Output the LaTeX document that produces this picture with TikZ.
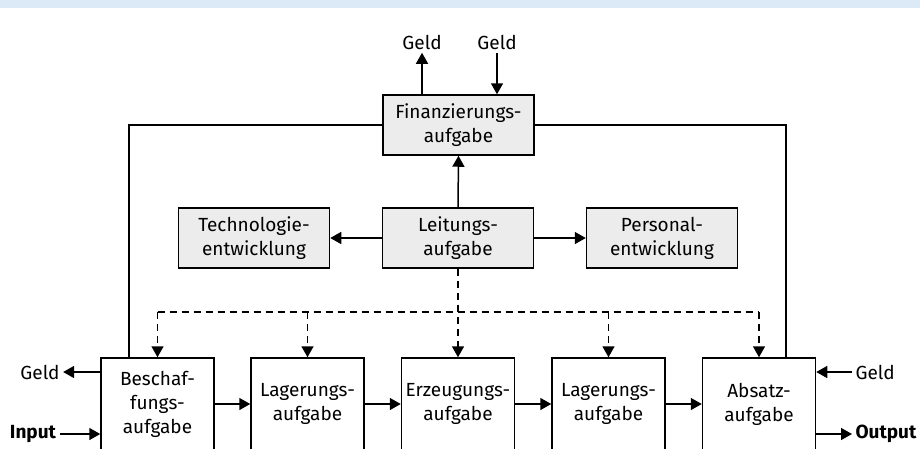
\documentclass[tikz,border=0pt]{standalone}
\usepackage{fontspec}
\setmainfont{Fira Sans}
\usetikzlibrary{arrows.meta}
\definecolor{band}{RGB}{220,234,247}
\definecolor{boxgray}{RGB}{236,236,236}
\begin{document}
\begin{tikzpicture}[x=1pt,y=-1pt,
  font=\fontsize{19}{24}\selectfont,
  gbox/.style={draw, fill=boxgray, minimum width=151pt, minimum height=60pt, align=center, inner sep=0pt, line width=1.5pt},
  wbox/.style={draw, fill=white, minimum width=113pt, minimum height=92pt, align=center, inner sep=0pt, line width=1.5pt},
  conn/.style={line width=1.5pt, -{Triangle[length=11pt,width=12pt]}},
  plain/.style={line width=1.5pt},
  dashline/.style={line width=1.5pt, dash pattern=on 7pt off 5pt},
  dconn/.style={conn, dash pattern=on 7pt off 5pt},
  boldlabel/.style={font=\fontsize{19}{24}\selectfont\bfseries}
]
\useasboundingbox (0,0) rectangle (920,448);
\clip (0,0) rectangle (920,448);
\fill[band] (0,0) rectangle (920,8);

\node[gbox] (fin) at (458.5,125) {Finanzierungs-\\aufgabe};
\node[gbox] (lei) at (458,238) {Leitungs-\\aufgabe};
\node[gbox] (tech) at (254,238) {Technologie-\\entwicklung};
\node[gbox] (pers) at (662,238) {Personal-\\entwicklung};

\node[wbox] (b1) at (157.5,404) {Beschaf-\\fungs-\\aufgabe};
\node[wbox] (b2) at (307.5,404) {Lagerungs-\\aufgabe};
\node[wbox] (b3) at (458,404) {Erzeugungs-\\aufgabe};
\node[wbox] (b4) at (608.5,404) {Lagerungs-\\aufgabe};
\node[wbox] (b5) at (759,404) {Absatz-\\aufgabe};

% loop
\coordinate (lt) at (129,125);
\coordinate (rt) at (786,125);
\draw[plain] (lt |- b1.north) |- (fin.west);
\draw[plain] (fin.east) -| (rt |- b5.north);

% Leitung arrows
\draw[conn] (lei.north) -- (fin.south);
\draw[conn] (lei.west) -- (tech.east);
\draw[conn] (lei.east) -- (pers.west);

% dashed distribution
\coordinate (dy) at (0,312);
\draw[dashline] (lei.south) -- (lei.south |- dy);
\draw[dashline] (b1.north |- dy) -- (b5.north |- dy);
\foreach \b in {b1,b2,b4,b5} \draw[dconn] (\b.north |- dy) -- (\b.north);
\draw[dconn] (lei.south) -- (b3.north);

% chain
\draw[conn] (b1.east) -- (b2.west);
\draw[conn] (b2.east) -- (b3.west);
\draw[conn] (b3.east) -- (b4.west);
\draw[conn] (b4.east) -- (b5.west);

% Geld top
\node (gt1) at (422,42) {Geld};
\node (gt2) at (497,42) {Geld};
\draw[conn] (fin.north -| gt1) -- (gt1.south);
\draw[conn] (gt2.south) -- (fin.north -| gt2);

% left side
\node (gl) at (40,372) {Geld};
\draw[conn] (b1.west |- gl) -- (gl.east);
\node[boldlabel] (in) at (33,434) {Input};
\draw[conn] (in.east) -- (b1.west |- in);

% right side
\node[anchor=west] (gr) at (852,372) {Geld};
\draw[conn] (gr.west) -- (b5.east |- gr);
\node[boldlabel, anchor=west] (out) at (852,434) {Output};
\draw[conn] (b5.east |- out) -- (out.west);
\end{tikzpicture}
\end{document}
